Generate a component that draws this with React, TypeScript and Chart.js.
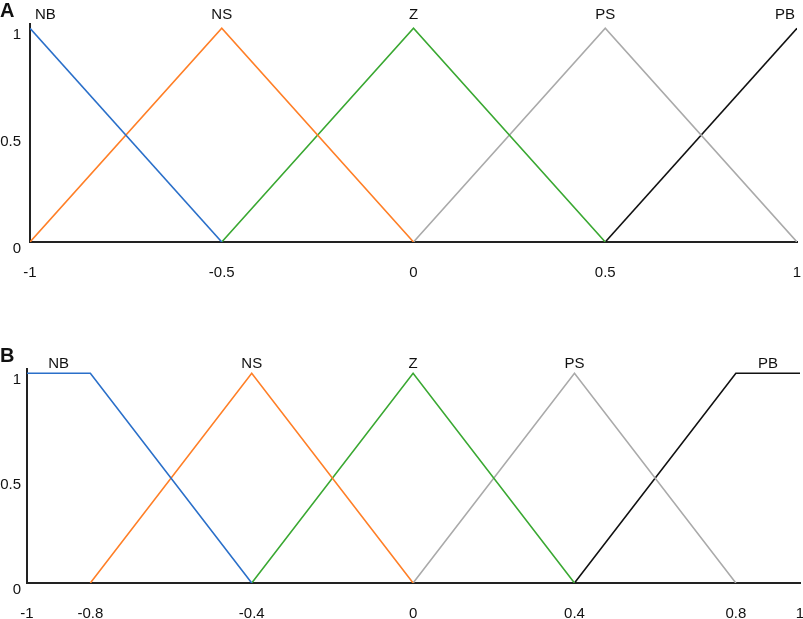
import React, { useEffect, useRef } from "react";
import { Chart, registerables } from "chart.js";

Chart.register(...registerables);

// ---- data ----
const termNames = ["NB", "NS", "Z", "PS", "PB"];

// Panel A: membership functions (x breakpoints and membership degrees)
const panelAx = [
  [-1, -0.5],
  [-1, -0.5, 0],
  [-0.5, 0, 0.5],
  [0, 0.5, 1],
  [0.5, 1],
];
const panelAmu = [
  [1, 0],
  [0, 1, 0],
  [0, 1, 0],
  [0, 1, 0],
  [0, 1],
];

// Panel B
const panelBx = [
  [-1, -0.8, -0.4],
  [-0.8, -0.4, 0],
  [-0.4, 0, 0.4],
  [0, 0.4, 0.8],
  [0.4, 0.8, 1],
];
const panelBmu = [
  [1, 1, 0],
  [0, 1, 0],
  [0, 1, 0],
  [0, 1, 0],
  [0, 1, 1],
];

const xTicksA = [-1, -0.5, 0, 0.5, 1];
const xTicksALabels = ["-1", "-0.5", "0", "0.5", "1"];
const xTicksB = [-1, -0.8, -0.4, 0, 0.4, 0.8, 1];
const xTicksBLabels = ["-1", "-0.8", "-0.4", "0", "0.4", "0.8", "1"];
const yTicks = [0, 0.5, 1];
const yTickLabels = ["0", "0.5", "1"];

// ---- style ----
const lineColors = ["#2a6fc9", "#ff7f27", "#3aa832", "#aaaaaa", "#111111"];
const FONT = '"Liberation Sans", Arial, sans-serif';

type PanelCfg = {
  xs: number[][];
  mus: number[][];
  xTicks: number[];
  xTickLabels: string[];
  xMin: number;
  xMax: number;
  padTop: number;
  padRight: number;
  yAxisWidth: number;
  xAxisHeight: number;
  xTickPad: number;
  yTickPad: number;
  yLabelOffset: number;
  labelGap: number;
  letter: string;
  letterBaseline: number;
};

function makePlugin(cfg: PanelCfg) {
  return {
    id: "termLabels",
    afterDraw(chart: any) {
      const { ctx, chartArea, scales } = chart;
      const sx = scales.x;
      const sy = scales.y;
      ctx.save();
      ctx.font = `15px ${FONT}`;
      ctx.fillStyle = "#111";
      ctx.textBaseline = "alphabetic";
      ctx.textAlign = "left";
      termNames.forEach((name, i) => {
        const px = cfg.xs[i]
          .filter((_, j) => cfg.mus[i][j] === 1)
          .map((v) => sx.getPixelForValue(Math.min(Math.max(v, sx.min), sx.max)));
        const cx = px.reduce((a, b) => a + b, 0) / px.length;
        const w = ctx.measureText(name).width;
        let left = cx - w / 2;
        left = Math.max(left, chartArea.left + 5);
        left = Math.min(left, chartArea.right - 2 - w);
        ctx.fillText(name, left, sy.getPixelForValue(1) - cfg.labelGap);
      });
      ctx.font = `bold 20px ${FONT}`;
      ctx.fillText(cfg.letter, 0, cfg.letterBaseline);
      ctx.restore();
    },
  };
}

function Panel({ cfg, width, height }: { cfg: PanelCfg; width: number; height: number }) {
  const ref = useRef<HTMLCanvasElement | null>(null);
  useEffect(() => {
    if (!ref.current) return;
    const datasets = termNames.map((name, i) => ({
      label: name,
      data: cfg.xs[i].map((x, j) => ({ x, y: cfg.mus[i][j] })),
      borderColor: lineColors[i],
      backgroundColor: lineColors[i],
      borderWidth: 1.6,
      pointRadius: 0,
      tension: 0,
      fill: false,
    }));
    const clampX = (v: number) => Math.min(Math.max(v, cfg.xMin), cfg.xMax);
    const chart = new Chart(ref.current, {
      type: "line",
      data: { datasets },
      options: {
        animation: false,
        responsive: false,
        devicePixelRatio: 1,
        layout: { padding: { top: cfg.padTop, right: cfg.padRight, left: 0, bottom: 0 } },
        plugins: { legend: { display: false }, tooltip: { enabled: false } },
        scales: {
          x: {
            type: "linear",
            min: cfg.xMin,
            max: cfg.xMax,
            grid: { display: false, drawTicks: false },
            border: { display: true, color: "#222", width: 2 },
            ticks: {
              padding: cfg.xTickPad,
              autoSkip: false,
              maxRotation: 0,
              color: "#111",
              font: { family: FONT, size: 15 },
              callback: (_v: any, idx: number) => cfg.xTickLabels[idx],
            },
            afterBuildTicks: (s: any) => {
              s.ticks = cfg.xTicks.map((v) => ({ value: clampX(v) }));
            },
            afterFit: (s: any) => {
              s.height = cfg.xAxisHeight;
              s.paddingLeft = 0;
              s.paddingRight = 0;
            },
          },
          y: {
            type: "linear",
            min: 0,
            max: 1.02,
            grid: { display: false, drawTicks: false },
            border: { display: true, color: "#222", width: 2 },
            ticks: {
              padding: cfg.yTickPad,
              labelOffset: cfg.yLabelOffset,
              color: "#111",
              font: { family: FONT, size: 15 },
              callback: (_v: any, idx: number) => yTickLabels[idx],
            },
            afterBuildTicks: (s: any) => {
              s.ticks = yTicks.map((v) => ({ value: v }));
            },
            afterFit: (s: any) => {
              s.width = cfg.yAxisWidth;
              s.paddingTop = 0;
              s.paddingBottom = 0;
            },
          },
        },
      } as any,
      plugins: [makePlugin(cfg)],
    });
    return () => chart.destroy();
  }, [cfg]);
  return <canvas ref={ref} width={width} height={height} style={{ display: "block", width, height }} />;
}

const cfgA: PanelCfg = {
  xs: panelAx,
  mus: panelAmu,
  xTicks: xTicksA,
  xTickLabels: xTicksALabels,
  xMin: -1,
  xMax: 1,
  padTop: 24,
  padRight: 6,
  yAxisWidth: 30,
  xAxisHeight: 58,
  xTickPad: 22,
  yTickPad: 9,
  yLabelOffset: 7,
  labelGap: 9,
  letter: "A",
  letterBaseline: 17,
};

const cfgB: PanelCfg = {
  xs: panelBx,
  mus: panelBmu,
  xTicks: xTicksB,
  xTickLabels: xTicksBLabels,
  xMin: -0.957,
  xMax: 0.959,
  padTop: 69,
  padRight: 3,
  yAxisWidth: 27,
  xAxisHeight: 36,
  xTickPad: 22,
  yTickPad: 6,
  yLabelOffset: 7,
  labelGap: 5,
  letter: "B",
  letterBaseline: 62,
};

export default function App() {
  return (
    <div
      style={{
        position: "fixed",
        left: 0,
        top: 0,
        width: 803,
        height: 619,
        background: "#fff",
        overflow: "hidden",
      }}
    >
      <Panel cfg={cfgA} width={803} height={300} />
      <Panel cfg={cfgB} width={803} height={319} />
    </div>
  );
}
